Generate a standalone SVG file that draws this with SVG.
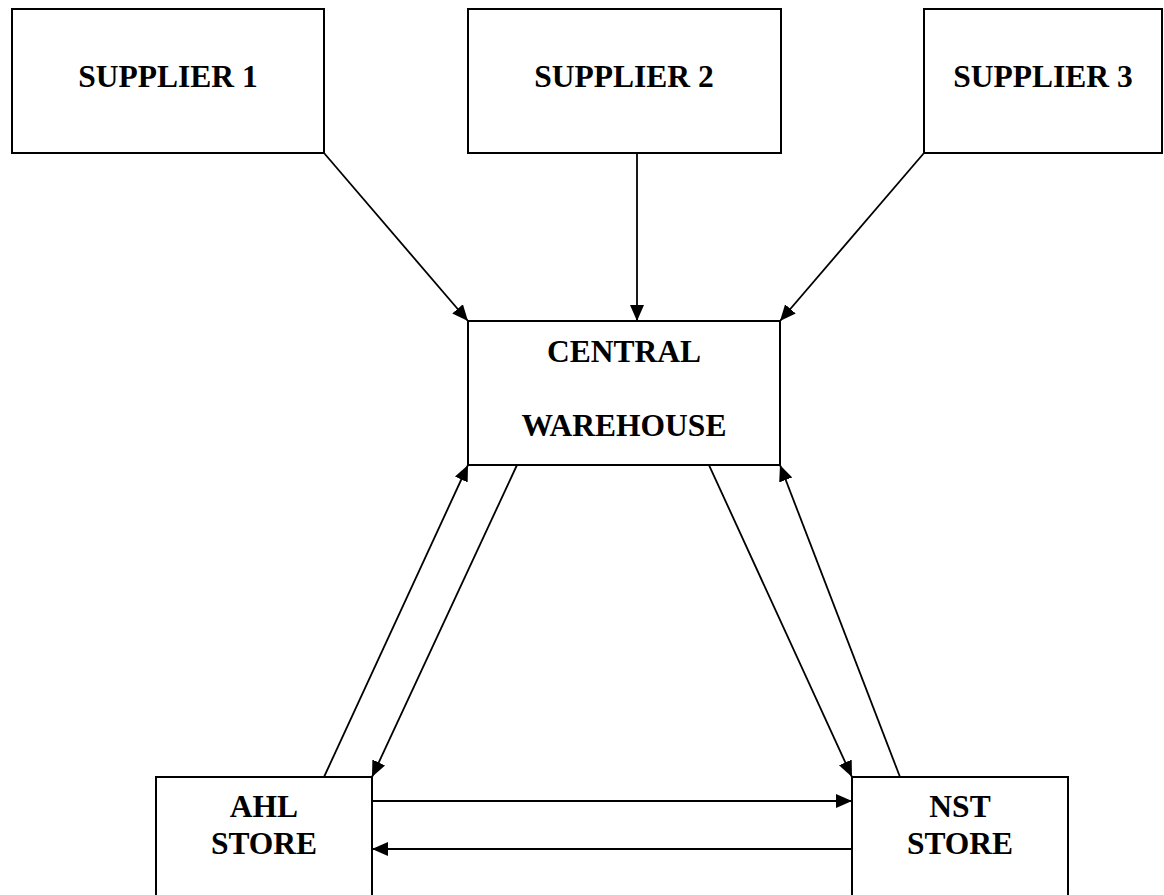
<svg xmlns="http://www.w3.org/2000/svg" width="1164" height="895" viewBox="0 0 1164 895">
<style>
.box{fill:#fff;stroke:#000;stroke-width:2}
.lbl{font-family:"Liberation Serif","Times New Roman",serif;font-weight:bold;font-size:31.5px;fill:#000;text-anchor:middle}
.con{stroke:#000;stroke-width:1.8;fill:none;marker-end:url(#ah)}
</style>
<defs>
<marker id="ah" markerUnits="userSpaceOnUse" markerWidth="18" markerHeight="15" refX="16" refY="7" orient="auto">
<path d="M0,0 L16,7 L0,14 Z" fill="#000"/>
</marker>
</defs>
<rect width="1164" height="895" fill="#fff"/>
<g id="supplier1"><rect class="box" x="12" y="9" width="312" height="144"/><text class="lbl" x="168" y="87">SUPPLIER 1</text></g>
<g id="supplier2"><rect class="box" x="468" y="9" width="313" height="144"/><text class="lbl" x="624" y="87">SUPPLIER 2</text></g>
<g id="supplier3"><rect class="box" x="924" y="9" width="238" height="144"/><text class="lbl" x="1043" y="87">SUPPLIER 3</text></g>
<g id="central"><rect class="box" x="468" y="321" width="312" height="144"/><text class="lbl" x="624" y="362">CENTRAL</text><text class="lbl" x="624" y="436">WAREHOUSE</text></g>
<g id="ahl"><rect class="box" x="156" y="777" width="216" height="130"/><text class="lbl" x="264" y="817">AHL</text><text class="lbl" x="264" y="854">STORE</text></g>
<g id="nst"><rect class="box" x="852" y="777" width="216" height="130"/><text class="lbl" x="960" y="817">NST</text><text class="lbl" x="960" y="854">STORE</text></g>
<g id="connectors">
<line class="con" x1="324" y1="153" x2="468" y2="321"/>
<line class="con" x1="637" y1="153" x2="637" y2="321"/>
<line class="con" x1="924" y1="153" x2="780" y2="321"/>
<line class="con" x1="324" y1="777" x2="468" y2="465"/>
<line class="con" x1="517" y1="465" x2="372" y2="777"/>
<line class="con" x1="709" y1="465" x2="852" y2="777"/>
<line class="con" x1="900" y1="777" x2="780" y2="465"/>
<line class="con" x1="372" y1="801" x2="852" y2="801"/>
<line class="con" x1="852" y1="849" x2="372" y2="849"/>
</g>
</svg>
